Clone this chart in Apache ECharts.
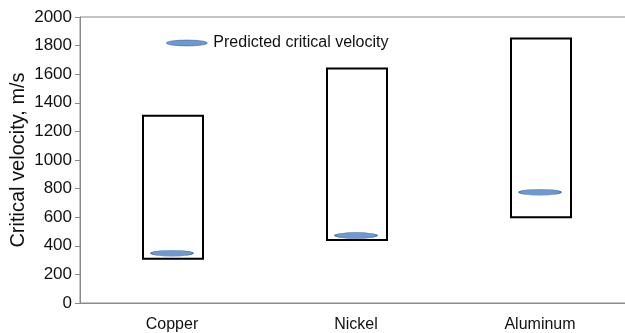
<!DOCTYPE html>
<html>
<head>
<meta charset="utf-8">
<style>
  html, body { margin: 0; padding: 0; background: #fff; overflow: hidden; }
  #chart { width: 632px; height: 333px; }
</style>
<script src="https://cdn.jsdelivr.net/npm/echarts@6/dist/echarts.min.js"></script>
</head>
<body>
<div id="chart"></div>
<script>
// Materials and critical velocity ranges (m/s)
const categories = ['Copper', 'Nickel', 'Aluminum'];
const rangeLow = [310, 440, 600];
const rangeHigh = [1310, 1640, 1850];
const predicted = [348, 472, 775];
const yTicks = { min: 0, max: 2000, interval: 200 };

// flat ellipse marker (about 7:1)
const ellipse = 'path://M0,3A21,3 0 1,1 42,3A21,3 0 1,1 0,3Z';
const font = 'Liberation Sans, Arial, sans-serif';

const chart = echarts.init(document.getElementById('chart'), null, { renderer: 'canvas' });

const rangeData = categories.map((c, i) => [i, rangeLow[i], rangeHigh[i]]);

chart.setOption({
  animation: false,
  backgroundColor: '#fff',
  grid: {
    left: 80, top: 17, right: 0, height: 286,
    outerBoundsMode: 'none', containLabel: false,
    show: true, borderColor: '#8a8a8a', borderWidth: 1, backgroundColor: 'transparent'
  },
  legend: {
    left: 166, top: 35, padding: 0,
    itemWidth: 41, itemHeight: 6, itemGap: 10,
    itemStyle: { borderWidth: 0.7, borderColor: '#2c5a94' },
    textStyle: { fontFamily: font, fontSize: 16, color: '#111', padding: [0, 0, 0, 1] },
    data: [{ name: 'Predicted critical velocity', icon: ellipse }]
  },
  xAxis: {
    type: 'category',
    data: categories,
    axisLine: { lineStyle: { color: '#8a8a8a', width: 1 } },
    axisTick: { show: false },
    axisLabel: { fontFamily: font, fontSize: 16, color: '#111', margin: 14 },
    splitLine: { show: false }
  },
  yAxis: {
    type: 'value',
    min: yTicks.min, max: yTicks.max, interval: yTicks.interval,
    name: 'Critical velocity, m/s',
    nameLocation: 'middle',
    nameGap: 52,
    nameMoveOverlap: false,
    nameTextStyle: { fontFamily: font, fontSize: 20, color: '#111' },
    axisLine: { show: true, lineStyle: { color: '#8a8a8a', width: 1 } },
    axisTick: { show: true, inside: false, length: 5, lineStyle: { color: '#8a8a8a' } },
    axisLabel: {
      fontFamily: font, fontSize: 17, color: '#111', margin: 8,
      formatter: (v) => String(v)
    },
    splitLine: { show: false }
  },
  series: [
    {
      name: 'Range',
      type: 'custom',
      data: rangeData,
      encode: { x: 0, y: [1, 2] },
      renderItem: function (params, api) {
        const idx = api.value(0);
        const top = api.coord([idx, api.value(2)]);
        const bottom = api.coord([idx, api.value(1)]);
        const w = 60;
        return {
          type: 'rect',
          shape: { x: top[0] - w / 2 + 1, y: top[1], width: w, height: bottom[1] - top[1] },
          style: { fill: '#fff', stroke: '#000', lineWidth: 2 }
        };
      },
      z: 2
    },
    {
      name: 'Predicted critical velocity',
      type: 'scatter',
      data: predicted,
      symbol: ellipse,
      symbolSize: [42, 6],
      symbolKeepAspect: false,
      itemStyle: { color: '#4a80c4', borderColor: '#2c5a94', borderWidth: 0.7 },
      z: 3
    }
  ]
});
</script>
</body>
</html>
